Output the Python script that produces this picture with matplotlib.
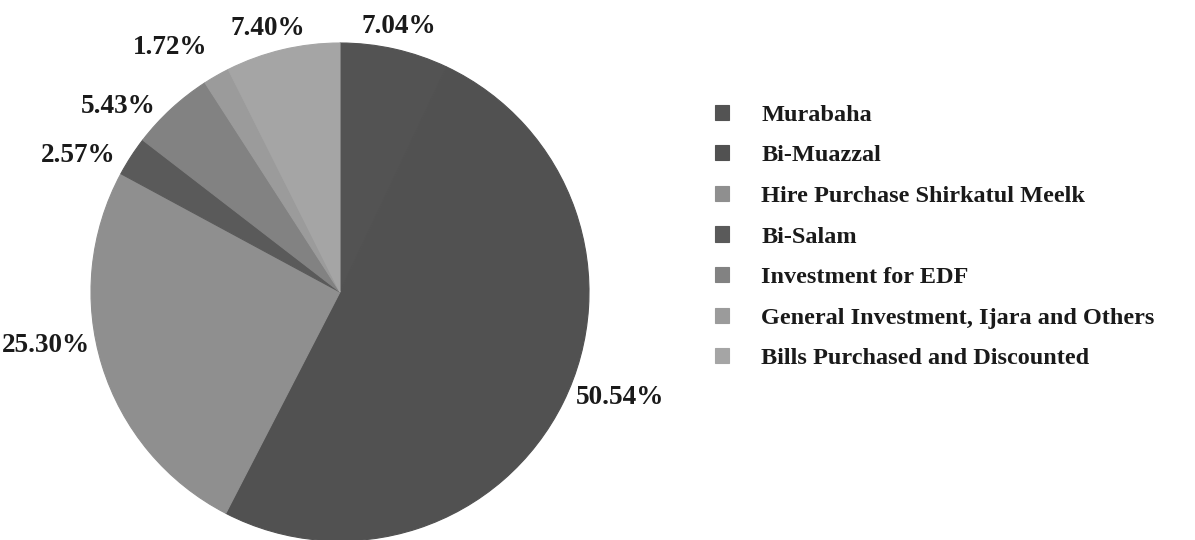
import numpy as np
import matplotlib
matplotlib.use("Agg")
import matplotlib.pyplot as plt
from matplotlib.font_manager import FontProperties

categories = ["Murabaha", "Bi-Muazzal", "Hire Purchase Shirkatul Meelk", "Bi-Salam",
              "Investment for EDF", "General Investment, Ijara and Others",
              "Bills Purchased and Discounted"]
values = [7.04, 50.54, 25.30, 2.57, 5.43, 1.72, 7.40]
colors = ["#535353", "#515151", "#8f8f8f", "#5a5a5a", "#828282", "#9b9b9b", "#a5a5a5"]
# label placement tweaks (angular degrees / radial pixels), mimicking the original's spreading
label_nudge = [0.1, 5.6, -6.8, 5.4, 7.4, 5.1, 2.0]
label_push = [0, 0, 0, 4, 0, 14, 0]

W, H = 1195, 540
fig = plt.figure(figsize=(W / 100, H / 100), dpi=100)
cx, cy, R = 340, 292, 249
ax = fig.add_axes([(cx - R) / W, (H - cy - R) / H, 2 * R / W, 2 * R / H])

wedges, _ = ax.pie(values, colors=colors, startangle=90, counterclock=False, radius=1,
                   wedgeprops=dict(linewidth=0.8))
for w in wedges:
    w.set_edgecolor(w.get_facecolor())
ax.set_xlim(-1, 1)
ax.set_ylim(-1, 1)
ax.axis("off")

lab_font = FontProperties(family="Liberation Serif", weight="bold", size=19.5)
texts = []
for w, v, nd, pp in zip(wedges, values, label_nudge, label_push):
    th = np.deg2rad((w.theta1 + w.theta2) / 2 + nd)
    t = ax.annotate(f"{v:.2f}%", xy=(0, 0), xytext=(0, 0),
                    textcoords="offset pixels", ha="center", va="center",
                    fontproperties=lab_font, color="#1a1a1a", annotation_clip=False)
    texts.append((t, th, pp))

fig.canvas.draw()
R0 = 1.02 * R
for t, th, pp in texts:
    bb = t.get_window_extent()
    a, b = bb.width / 2, bb.height / 2 * 0.8
    rr = R0 + a * abs(np.cos(th)) + b * abs(np.sin(th)) + pp
    t.xyann = (rr * np.cos(th), rr * np.sin(th))

leg_font = FontProperties(family="Liberation Serif", weight="bold", size=17.5)
fig.legend(wedges, categories, loc="center left", bbox_to_anchor=(715 / W, 1 - 237 / H),
           frameon=False, prop=leg_font, handlelength=0.58, handleheight=0.58,
           handletextpad=1.33, labelspacing=0.8, borderpad=0, borderaxespad=0,
           labelcolor="#1a1a1a")

fig.savefig("out.png", dpi=100, facecolor="white")
